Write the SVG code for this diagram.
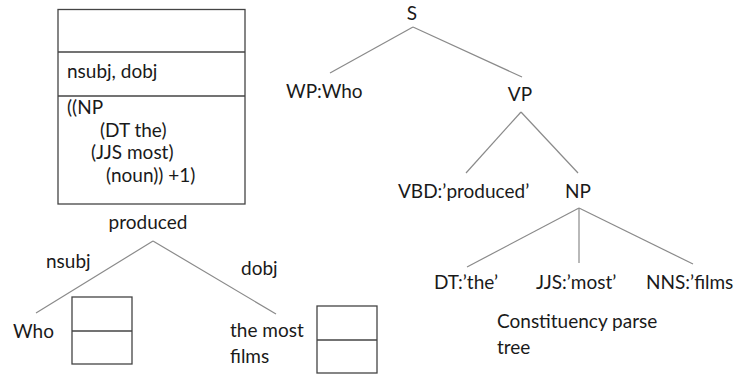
<svg xmlns="http://www.w3.org/2000/svg" width="737" height="378" viewBox="0 0 737 378">
<style>
text{font-family:Lato,"Open Sans","Liberation Sans",sans-serif;font-size:19px;fill:#1a1a1a}
.box{fill:none;stroke:#444;stroke-width:1.3}
.edge{stroke:#8a8a8a;stroke-width:1.2;fill:none}
.m{text-anchor:middle}
</style>
<rect width="737" height="378" fill="#fff"/>
<g id="frame">
<rect class="box" x="58" y="9.5" width="187" height="194.5"/>
<line class="box" x1="58" y1="52" x2="245" y2="52"/>
<line class="box" x1="58" y1="96" x2="245" y2="96"/>
<text x="67" y="78">nsubj, dobj</text>
<text x="67" y="114">((NP</text>
<text x="100" y="137">(DT the)</text>
<text x="91" y="159">(JJS most)</text>
<text x="106" y="182">(noun)) +1)</text>
</g>
<g id="connectors">
<line class="edge" x1="153" y1="241" x2="36" y2="313"/>
<line class="edge" x1="153" y1="241" x2="276" y2="314"/>
<line class="edge" x1="413" y1="27" x2="330" y2="73"/>
<line class="edge" x1="413" y1="27" x2="522" y2="77"/>
<line class="edge" x1="521" y1="112" x2="466" y2="173"/>
<line class="edge" x1="521" y1="112" x2="578" y2="173"/>
<line class="edge" x1="579" y1="208" x2="467" y2="267"/>
<line class="edge" x1="579" y1="208" x2="579" y2="263"/>
<line class="edge" x1="579" y1="208" x2="693" y2="264"/>
</g>
<g id="produced"><text class="m" x="148" y="229">produced</text></g>
<g id="label-nsubj"><text x="46" y="268">nsubj</text></g>
<g id="label-dobj"><text x="241" y="275">dobj</text></g>
<g id="who">
<text x="13" y="338">Who</text>
<rect class="box" x="72" y="297" width="60" height="67"/>
<line class="box" x1="72" y1="331" x2="132" y2="331"/>
</g>
<g id="the-most-films">
<text x="230" y="337">the most</text>
<text x="230" y="363">films</text>
<rect class="box" x="317" y="306" width="60" height="67"/>
<line class="box" x1="317" y1="340" x2="377" y2="340"/>
</g>
<g id="S"><text class="m" x="412" y="19.5">S</text></g>
<g id="WP"><text x="286" y="98">WP:Who</text></g>
<g id="VP"><text class="m" x="520" y="101">VP</text></g>
<g id="VBD"><text x="398" y="198">VBD:’produced’</text></g>
<g id="NP"><text class="m" x="578" y="198">NP</text></g>
<g id="DT"><text x="434" y="289">DT:’the’</text></g>
<g id="JJS"><text x="536" y="289">JJS:’most’</text></g>
<g id="NNS"><text x="646" y="289">NNS:’films</text></g>
<g id="caption">
<text x="497" y="328">Constituency parse</text>
<text x="497" y="354">tree</text>
</g>
</svg>
